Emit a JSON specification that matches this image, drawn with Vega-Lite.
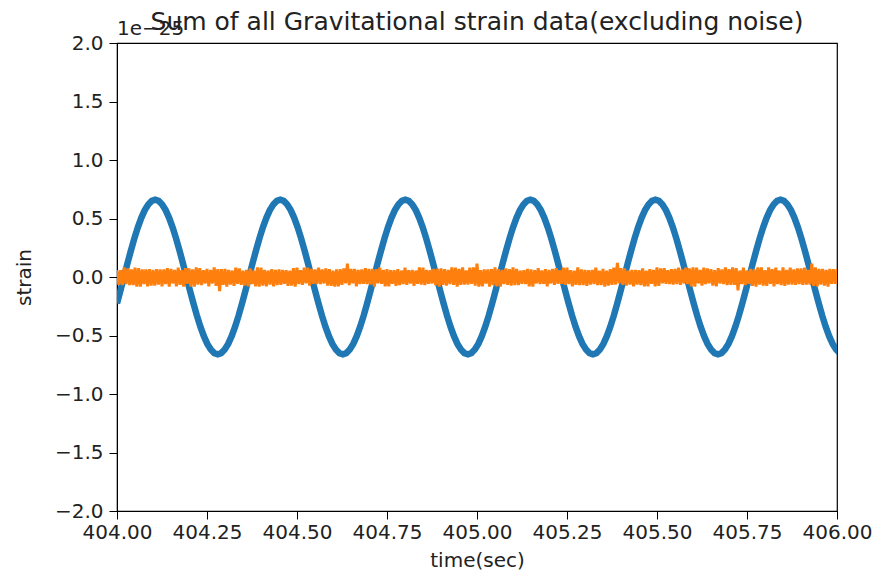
{
"$schema": "https://vega.github.io/schema/vega-lite/v6.json",
"width": 720, "height": 468,
"autosize": {"type": "none"},
"padding": {"left": 117, "top": 43, "right": 44, "bottom": 65},
"background": "white",
"title": {"text": "Sum of all Gravitational strain data(excluding noise)", "fontSize": 25, "font": "DejaVu Sans", "fontWeight": "normal", "color": "#222", "offset": 9, "dy": 25},
"config": {
  "view": {"stroke": "black", "strokeWidth": 1.2},
  "axis": {"grid": false, "domainColor": "black", "tickColor": "black", "labelColor": "#222", "titleColor": "#222", "labelFont": "DejaVu Sans", "titleFont": "DejaVu Sans", "labelFontSize": 20, "titleFontSize": 20, "titleFontWeight": "normal", "tickSize": 8, "labelFlush": false, "labelOverlap": false}
},
"datasets": {
"blue": [
{"t":404,"v":-0.226},{"t":404.00965,"v":-0.115},{"t":404.0193,"v":0},{"t":404.02895,"v":0.115},{"t":404.0386,"v":0.226},{"t":404.04825,"v":0.33},{"t":404.0579,"v":0.424},{"t":404.06755,"v":0.506},{"t":404.0772,"v":0.572},{"t":404.08685,"v":0.62},
{"t":404.0965,"v":0.65},{"t":404.10615,"v":0.66},{"t":404.1158,"v":0.65},{"t":404.12545,"v":0.62},{"t":404.1351,"v":0.572},{"t":404.14475,"v":0.506},{"t":404.1544,"v":0.424},{"t":404.16405,"v":0.33},{"t":404.1737,"v":0.226},{"t":404.18335,"v":0.115},
{"t":404.193,"v":0},{"t":404.20265,"v":-0.115},{"t":404.2123,"v":-0.226},{"t":404.22195,"v":-0.33},{"t":404.2316,"v":-0.424},{"t":404.24125,"v":-0.506},{"t":404.2509,"v":-0.572},{"t":404.26055,"v":-0.62},{"t":404.2702,"v":-0.65},{"t":404.27985,"v":-0.66},
{"t":404.2895,"v":-0.65},{"t":404.29915,"v":-0.62},{"t":404.3088,"v":-0.572},{"t":404.31845,"v":-0.506},{"t":404.3281,"v":-0.424},{"t":404.33775,"v":-0.33},{"t":404.3474,"v":-0.226},{"t":404.35705,"v":-0.115},{"t":404.3667,"v":0},{"t":404.37635,"v":0.115},
{"t":404.386,"v":0.226},{"t":404.39565,"v":0.33},{"t":404.4053,"v":0.424},{"t":404.41495,"v":0.506},{"t":404.4246,"v":0.572},{"t":404.43425,"v":0.62},{"t":404.4439,"v":0.65},{"t":404.45355,"v":0.66},{"t":404.4632,"v":0.65},{"t":404.47285,"v":0.62},
{"t":404.4825,"v":0.572},{"t":404.49215,"v":0.506},{"t":404.5018,"v":0.424},{"t":404.51145,"v":0.33},{"t":404.5211,"v":0.226},{"t":404.53075,"v":0.115},{"t":404.5404,"v":0},{"t":404.55005,"v":-0.115},{"t":404.5597,"v":-0.226},{"t":404.56935,"v":-0.33},
{"t":404.579,"v":-0.424},{"t":404.58865,"v":-0.506},{"t":404.5983,"v":-0.572},{"t":404.60795,"v":-0.62},{"t":404.6176,"v":-0.65},{"t":404.62725,"v":-0.66},{"t":404.6369,"v":-0.65},{"t":404.64655,"v":-0.62},{"t":404.6562,"v":-0.572},{"t":404.66585,"v":-0.506},
{"t":404.6755,"v":-0.424},{"t":404.68515,"v":-0.33},{"t":404.6948,"v":-0.226},{"t":404.70445,"v":-0.115},{"t":404.7141,"v":0},{"t":404.72375,"v":0.115},{"t":404.7334,"v":0.226},{"t":404.74305,"v":0.33},{"t":404.7527,"v":0.424},{"t":404.76235,"v":0.506},
{"t":404.772,"v":0.572},{"t":404.78165,"v":0.62},{"t":404.7913,"v":0.65},{"t":404.80095,"v":0.66},{"t":404.8106,"v":0.65},{"t":404.82025,"v":0.62},{"t":404.8299,"v":0.572},{"t":404.83955,"v":0.506},{"t":404.8492,"v":0.424},{"t":404.85885,"v":0.33},
{"t":404.8685,"v":0.226},{"t":404.87815,"v":0.115},{"t":404.8878,"v":0},{"t":404.89745,"v":-0.115},{"t":404.9071,"v":-0.226},{"t":404.91675,"v":-0.33},{"t":404.9264,"v":-0.424},{"t":404.93605,"v":-0.506},{"t":404.9457,"v":-0.572},{"t":404.95535,"v":-0.62},
{"t":404.965,"v":-0.65},{"t":404.97465,"v":-0.66},{"t":404.9843,"v":-0.65},{"t":404.99395,"v":-0.62},{"t":405.0036,"v":-0.572},{"t":405.01325,"v":-0.506},{"t":405.0229,"v":-0.424},{"t":405.03255,"v":-0.33},{"t":405.0422,"v":-0.226},{"t":405.05185,"v":-0.115},
{"t":405.0615,"v":0},{"t":405.07115,"v":0.115},{"t":405.0808,"v":0.226},{"t":405.09045,"v":0.33},{"t":405.1001,"v":0.424},{"t":405.10975,"v":0.506},{"t":405.1194,"v":0.572},{"t":405.12905,"v":0.62},{"t":405.1387,"v":0.65},{"t":405.14835,"v":0.66},
{"t":405.158,"v":0.65},{"t":405.16765,"v":0.62},{"t":405.1773,"v":0.572},{"t":405.18695,"v":0.506},{"t":405.1966,"v":0.424},{"t":405.20625,"v":0.33},{"t":405.2159,"v":0.226},{"t":405.22555,"v":0.115},{"t":405.2352,"v":0},{"t":405.24485,"v":-0.115},
{"t":405.2545,"v":-0.226},{"t":405.26415,"v":-0.33},{"t":405.2738,"v":-0.424},{"t":405.28345,"v":-0.506},{"t":405.2931,"v":-0.572},{"t":405.30275,"v":-0.62},{"t":405.3124,"v":-0.65},{"t":405.32205,"v":-0.66},{"t":405.3317,"v":-0.65},{"t":405.34135,"v":-0.62},
{"t":405.351,"v":-0.572},{"t":405.36065,"v":-0.506},{"t":405.3703,"v":-0.424},{"t":405.37995,"v":-0.33},{"t":405.3896,"v":-0.226},{"t":405.39925,"v":-0.115},{"t":405.4089,"v":0},{"t":405.41855,"v":0.115},{"t":405.4282,"v":0.226},{"t":405.43785,"v":0.33},
{"t":405.4475,"v":0.424},{"t":405.45715,"v":0.506},{"t":405.4668,"v":0.572},{"t":405.47645,"v":0.62},{"t":405.4861,"v":0.65},{"t":405.49575,"v":0.66},{"t":405.5054,"v":0.65},{"t":405.51505,"v":0.62},{"t":405.5247,"v":0.572},{"t":405.53435,"v":0.506},
{"t":405.544,"v":0.424},{"t":405.55365,"v":0.33},{"t":405.5633,"v":0.226},{"t":405.57295,"v":0.115},{"t":405.5826,"v":0},{"t":405.59225,"v":-0.115},{"t":405.6019,"v":-0.226},{"t":405.61155,"v":-0.33},{"t":405.6212,"v":-0.424},{"t":405.63085,"v":-0.506},
{"t":405.6405,"v":-0.572},{"t":405.65015,"v":-0.62},{"t":405.6598,"v":-0.65},{"t":405.66945,"v":-0.66},{"t":405.6791,"v":-0.65},{"t":405.68875,"v":-0.62},{"t":405.6984,"v":-0.572},{"t":405.70805,"v":-0.506},{"t":405.7177,"v":-0.424},{"t":405.72735,"v":-0.33},
{"t":405.737,"v":-0.226},{"t":405.74665,"v":-0.115},{"t":405.7563,"v":0},{"t":405.76595,"v":0.115},{"t":405.7756,"v":0.226},{"t":405.78525,"v":0.33},{"t":405.7949,"v":0.424},{"t":405.80455,"v":0.506},{"t":405.8142,"v":0.572},{"t":405.82385,"v":0.62},
{"t":405.8335,"v":0.65},{"t":405.84315,"v":0.66},{"t":405.8528,"v":0.65},{"t":405.86245,"v":0.62},{"t":405.8721,"v":0.572},{"t":405.88175,"v":0.506},{"t":405.8914,"v":0.424},{"t":405.90105,"v":0.33},{"t":405.9107,"v":0.226},{"t":405.92035,"v":0.115},
{"t":405.93,"v":0},{"t":405.93965,"v":-0.115},{"t":405.9493,"v":-0.226},{"t":405.95895,"v":-0.33},{"t":405.9686,"v":-0.424},{"t":405.97825,"v":-0.506},{"t":405.9879,"v":-0.572},{"t":405.99755,"v":-0.62},{"t":406.0072,"v":-0.65}
],
"orange": [
{"t":404,"v":0.058},{"t":404.005,"v":-0.067},{"t":404.01,"v":0.058},{"t":404.015,"v":-0.07},{"t":404.02,"v":0.082},{"t":404.025,"v":-0.061},{"t":404.03,"v":0.073},{"t":404.035,"v":-0.07},{"t":404.04,"v":0.064},{"t":404.045,"v":-0.07},
{"t":404.05,"v":0.079},{"t":404.055,"v":-0.082},{"t":404.06,"v":0.076},{"t":404.065,"v":-0.082},{"t":404.07,"v":0.064},{"t":404.075,"v":-0.061},{"t":404.08,"v":0.064},{"t":404.085,"v":-0.079},{"t":404.09,"v":0.067},{"t":404.095,"v":-0.073},
{"t":404.1,"v":0.061},{"t":404.105,"v":-0.073},{"t":404.11,"v":0.067},{"t":404.115,"v":-0.064},{"t":404.12,"v":0.064},{"t":404.125,"v":-0.079},{"t":404.13,"v":0.064},{"t":404.135,"v":-0.061},{"t":404.14,"v":0.076},{"t":404.145,"v":-0.082},
{"t":404.15,"v":0.07},{"t":404.155,"v":-0.055},{"t":404.16,"v":0.061},{"t":404.165,"v":-0.079},{"t":404.17,"v":0.079},{"t":404.175,"v":-0.067},{"t":404.18,"v":0.058},{"t":404.185,"v":-0.082},{"t":404.19,"v":0.076},{"t":404.195,"v":-0.058},
{"t":404.2,"v":0.073},{"t":404.205,"v":-0.082},{"t":404.21,"v":0.064},{"t":404.215,"v":-0.082},{"t":404.22,"v":0.082},{"t":404.225,"v":-0.064},{"t":404.23,"v":0.076},{"t":404.235,"v":-0.07},{"t":404.24,"v":0.058},{"t":404.245,"v":-0.055},
{"t":404.25,"v":0.07},{"t":404.255,"v":-0.079},{"t":404.26,"v":0.061},{"t":404.265,"v":-0.055},{"t":404.27,"v":0.082},{"t":404.275,"v":-0.076},{"t":404.28,"v":0.067},{"t":404.285,"v":-0.12},{"t":404.29,"v":0.067},{"t":404.295,"v":-0.067},
{"t":404.3,"v":0.07},{"t":404.305,"v":-0.082},{"t":404.31,"v":0.061},{"t":404.315,"v":-0.064},{"t":404.32,"v":0.055},{"t":404.325,"v":-0.076},{"t":404.33,"v":0.079},{"t":404.335,"v":-0.058},{"t":404.34,"v":0.073},{"t":404.345,"v":-0.067},
{"t":404.35,"v":0.055},{"t":404.355,"v":-0.073},{"t":404.36,"v":0.061},{"t":404.365,"v":-0.079},{"t":404.37,"v":0.073},{"t":404.375,"v":-0.061},{"t":404.38,"v":0.055},{"t":404.385,"v":-0.079},{"t":404.39,"v":0.082},{"t":404.395,"v":-0.082},
{"t":404.4,"v":0.079},{"t":404.405,"v":-0.073},{"t":404.41,"v":0.061},{"t":404.415,"v":-0.079},{"t":404.42,"v":0.055},{"t":404.425,"v":-0.064},{"t":404.43,"v":0.067},{"t":404.435,"v":-0.079},{"t":404.44,"v":0.061},{"t":404.445,"v":-0.07},
{"t":404.45,"v":0.064},{"t":404.455,"v":-0.067},{"t":404.46,"v":0.061},{"t":404.465,"v":-0.058},{"t":404.47,"v":0.058},{"t":404.475,"v":-0.076},{"t":404.48,"v":0.055},{"t":404.485,"v":-0.073},{"t":404.49,"v":0.076},{"t":404.495,"v":-0.082},
{"t":404.5,"v":0.079},{"t":404.505,"v":-0.061},{"t":404.51,"v":0.058},{"t":404.515,"v":-0.067},{"t":404.52,"v":0.079},{"t":404.525,"v":-0.055},{"t":404.53,"v":0.079},{"t":404.535,"v":-0.073},{"t":404.54,"v":0.07},{"t":404.545,"v":-0.058},
{"t":404.55,"v":0.064},{"t":404.555,"v":-0.061},{"t":404.56,"v":0.079},{"t":404.565,"v":-0.061},{"t":404.57,"v":0.064},{"t":404.575,"v":-0.055},{"t":404.58,"v":0.073},{"t":404.585,"v":-0.073},{"t":404.59,"v":0.067},{"t":404.595,"v":-0.076},
{"t":404.6,"v":0.055},{"t":404.605,"v":-0.082},{"t":404.61,"v":0.064},{"t":404.615,"v":-0.079},{"t":404.62,"v":0.067},{"t":404.625,"v":-0.067},{"t":404.63,"v":0.073},{"t":404.635,"v":-0.055},{"t":404.64,"v":0.115},{"t":404.645,"v":-0.07},
{"t":404.65,"v":0.07},{"t":404.655,"v":-0.055},{"t":404.66,"v":0.07},{"t":404.665,"v":-0.079},{"t":404.67,"v":0.061},{"t":404.675,"v":-0.061},{"t":404.68,"v":0.064},{"t":404.685,"v":-0.058},{"t":404.69,"v":0.076},{"t":404.695,"v":-0.061},
{"t":404.7,"v":0.07},{"t":404.705,"v":-0.064},{"t":404.71,"v":0.07},{"t":404.715,"v":-0.082},{"t":404.72,"v":0.067},{"t":404.725,"v":-0.055},{"t":404.73,"v":0.079},{"t":404.735,"v":-0.058},{"t":404.74,"v":0.061},{"t":404.745,"v":-0.079},
{"t":404.75,"v":0.067},{"t":404.755,"v":-0.079},{"t":404.76,"v":0.058},{"t":404.765,"v":-0.058},{"t":404.77,"v":0.058},{"t":404.775,"v":-0.076},{"t":404.78,"v":0.067},{"t":404.785,"v":-0.07},{"t":404.79,"v":0.055},{"t":404.795,"v":-0.061},
{"t":404.8,"v":0.079},{"t":404.805,"v":-0.067},{"t":404.81,"v":0.058},{"t":404.815,"v":-0.055},{"t":404.82,"v":0.061},{"t":404.825,"v":-0.076},{"t":404.83,"v":0.055},{"t":404.835,"v":-0.058},{"t":404.84,"v":0.082},{"t":404.845,"v":-0.064},
{"t":404.85,"v":0.079},{"t":404.855,"v":-0.07},{"t":404.86,"v":0.061},{"t":404.865,"v":-0.058},{"t":404.87,"v":0.058},{"t":404.875,"v":-0.055},{"t":404.88,"v":0.07},{"t":404.885,"v":-0.07},{"t":404.89,"v":0.07},{"t":404.895,"v":-0.082},
{"t":404.9,"v":0.073},{"t":404.905,"v":-0.067},{"t":404.91,"v":0.067},{"t":404.915,"v":-0.073},{"t":404.92,"v":0.061},{"t":404.925,"v":-0.061},{"t":404.93,"v":0.082},{"t":404.935,"v":-0.067},{"t":404.94,"v":0.079},{"t":404.945,"v":-0.082},
{"t":404.95,"v":0.07},{"t":404.955,"v":-0.067},{"t":404.96,"v":0.082},{"t":404.965,"v":-0.064},{"t":404.97,"v":0.055},{"t":404.975,"v":-0.064},{"t":404.98,"v":0.079},{"t":404.985,"v":-0.058},{"t":404.99,"v":0.082},{"t":404.995,"v":-0.073},
{"t":405,"v":0.115},{"t":405.005,"v":-0.082},{"t":405.01,"v":0.058},{"t":405.015,"v":-0.079},{"t":405.02,"v":0.064},{"t":405.025,"v":-0.055},{"t":405.03,"v":0.064},{"t":405.035,"v":-0.082},{"t":405.04,"v":0.067},{"t":405.045,"v":-0.07},
{"t":405.05,"v":0.082},{"t":405.055,"v":-0.079},{"t":405.06,"v":0.067},{"t":405.065,"v":-0.082},{"t":405.07,"v":0.061},{"t":405.075,"v":-0.061},{"t":405.08,"v":0.073},{"t":405.085,"v":-0.067},{"t":405.09,"v":0.067},{"t":405.095,"v":-0.073},
{"t":405.1,"v":0.082},{"t":405.105,"v":-0.07},{"t":405.11,"v":0.07},{"t":405.115,"v":-0.07},{"t":405.12,"v":0.055},{"t":405.125,"v":-0.058},{"t":405.13,"v":0.058},{"t":405.135,"v":-0.061},{"t":405.14,"v":0.07},{"t":405.145,"v":-0.079},
{"t":405.15,"v":0.064},{"t":405.155,"v":-0.082},{"t":405.16,"v":0.058},{"t":405.165,"v":-0.055},{"t":405.17,"v":0.076},{"t":405.175,"v":-0.061},{"t":405.18,"v":0.055},{"t":405.185,"v":-0.058},{"t":405.19,"v":0.067},{"t":405.195,"v":-0.079},
{"t":405.2,"v":0.061},{"t":405.205,"v":-0.055},{"t":405.21,"v":0.07},{"t":405.215,"v":-0.067},{"t":405.22,"v":0.076},{"t":405.225,"v":-0.058},{"t":405.23,"v":0.058},{"t":405.235,"v":-0.058},{"t":405.24,"v":0.079},{"t":405.245,"v":-0.067},
{"t":405.25,"v":0.079},{"t":405.255,"v":-0.061},{"t":405.26,"v":0.058},{"t":405.265,"v":-0.079},{"t":405.27,"v":0.055},{"t":405.275,"v":-0.067},{"t":405.28,"v":0.082},{"t":405.285,"v":-0.07},{"t":405.29,"v":0.064},{"t":405.295,"v":-0.07},
{"t":405.3,"v":0.061},{"t":405.305,"v":-0.076},{"t":405.31,"v":0.058},{"t":405.315,"v":-0.064},{"t":405.32,"v":0.061},{"t":405.325,"v":-0.061},{"t":405.33,"v":0.079},{"t":405.335,"v":-0.07},{"t":405.34,"v":0.055},{"t":405.345,"v":-0.07},
{"t":405.35,"v":0.07},{"t":405.355,"v":-0.082},{"t":405.36,"v":0.055},{"t":405.365,"v":-0.073},{"t":405.37,"v":0.067},{"t":405.375,"v":-0.067},{"t":405.38,"v":0.079},{"t":405.385,"v":-0.064},{"t":405.39,"v":0.12},{"t":405.395,"v":-0.055},
{"t":405.4,"v":0.076},{"t":405.405,"v":-0.067},{"t":405.41,"v":0.073},{"t":405.415,"v":-0.073},{"t":405.42,"v":0.055},{"t":405.425,"v":-0.064},{"t":405.43,"v":0.061},{"t":405.435,"v":-0.079},{"t":405.44,"v":0.061},{"t":405.445,"v":-0.064},
{"t":405.45,"v":0.058},{"t":405.455,"v":-0.07},{"t":405.46,"v":0.073},{"t":405.465,"v":-0.079},{"t":405.47,"v":0.055},{"t":405.475,"v":-0.079},{"t":405.48,"v":0.067},{"t":405.485,"v":-0.058},{"t":405.49,"v":0.061},{"t":405.495,"v":-0.079},
{"t":405.5,"v":0.082},{"t":405.505,"v":-0.076},{"t":405.51,"v":0.073},{"t":405.515,"v":-0.055},{"t":405.52,"v":0.076},{"t":405.525,"v":-0.058},{"t":405.53,"v":0.058},{"t":405.535,"v":-0.061},{"t":405.54,"v":0.067},{"t":405.545,"v":-0.064},
{"t":405.55,"v":0.07},{"t":405.555,"v":-0.061},{"t":405.56,"v":0.079},{"t":405.565,"v":-0.067},{"t":405.57,"v":0.064},{"t":405.575,"v":-0.055},{"t":405.58,"v":0.079},{"t":405.585,"v":-0.061},{"t":405.59,"v":0.073},{"t":405.595,"v":-0.079},
{"t":405.6,"v":0.082},{"t":405.605,"v":-0.082},{"t":405.61,"v":0.079},{"t":405.615,"v":-0.055},{"t":405.62,"v":0.061},{"t":405.625,"v":-0.073},{"t":405.63,"v":0.079},{"t":405.635,"v":-0.061},{"t":405.64,"v":0.073},{"t":405.645,"v":-0.055},
{"t":405.65,"v":0.067},{"t":405.655,"v":-0.073},{"t":405.66,"v":0.058},{"t":405.665,"v":-0.079},{"t":405.67,"v":0.076},{"t":405.675,"v":-0.055},{"t":405.68,"v":0.064},{"t":405.685,"v":-0.061},{"t":405.69,"v":0.082},{"t":405.695,"v":-0.07},
{"t":405.7,"v":0.067},{"t":405.705,"v":-0.067},{"t":405.71,"v":0.082},{"t":405.715,"v":-0.067},{"t":405.72,"v":0.076},{"t":405.725,"v":-0.115},{"t":405.73,"v":0.055},{"t":405.735,"v":-0.061},{"t":405.74,"v":0.079},{"t":405.745,"v":-0.07},
{"t":405.75,"v":0.055},{"t":405.755,"v":-0.058},{"t":405.76,"v":0.07},{"t":405.765,"v":-0.076},{"t":405.77,"v":0.064},{"t":405.775,"v":-0.082},{"t":405.78,"v":0.082},{"t":405.785,"v":-0.064},{"t":405.79,"v":0.082},{"t":405.795,"v":-0.073},
{"t":405.8,"v":0.058},{"t":405.805,"v":-0.076},{"t":405.81,"v":0.082},{"t":405.815,"v":-0.058},{"t":405.82,"v":0.067},{"t":405.825,"v":-0.079},{"t":405.83,"v":0.079},{"t":405.835,"v":-0.061},{"t":405.84,"v":0.055},{"t":405.845,"v":-0.07},
{"t":405.85,"v":0.082},{"t":405.855,"v":-0.076},{"t":405.86,"v":0.061},{"t":405.865,"v":-0.064},{"t":405.87,"v":0.079},{"t":405.875,"v":-0.064},{"t":405.88,"v":0.064},{"t":405.885,"v":-0.067},{"t":405.89,"v":0.073},{"t":405.895,"v":-0.061},
{"t":405.9,"v":0.073},{"t":405.905,"v":-0.067},{"t":405.91,"v":0.079},{"t":405.915,"v":-0.064},{"t":405.92,"v":0.061},{"t":405.925,"v":-0.064},{"t":405.93,"v":0.115},{"t":405.935,"v":-0.076},{"t":405.94,"v":0.082},{"t":405.945,"v":-0.079},
{"t":405.95,"v":0.07},{"t":405.955,"v":-0.064},{"t":405.96,"v":0.07},{"t":405.965,"v":-0.073},{"t":405.97,"v":0.061},{"t":405.975,"v":-0.082},{"t":405.98,"v":0.07},{"t":405.985,"v":-0.058},{"t":405.99,"v":0.067},{"t":405.995,"v":-0.058},
{"t":406,"v":0.07}
],
"note": [{"t":404,"v":2,"label":"1e−25"}]
},
"layer": [
  {"data": {"name": "blue"}, "mark": {"type": "line", "color": "#1f77b4", "strokeWidth": 6.5, "clip": true},
   "encoding": {
     "x": {"field": "t", "type": "quantitative", "scale": {"domain": [404, 406], "nice": false, "zero": false},
           "axis": {"values": [404, 404.25, 404.5, 404.75, 405, 405.25, 405.5, 405.75, 406], "format": ".2f", "title": "time(sec)", "labelPadding": 3, "titlePadding": 8}},
     "y": {"field": "v", "type": "quantitative", "scale": {"domain": [-2, 2], "nice": false, "zero": false},
           "axis": {"values": [-2, -1.5, -1, -0.5, 0, 0.5, 1, 1.5, 2], "format": ".1f", "title": "strain", "labelPadding": 6, "titlePadding": 20}}
   }},
  {"data": {"name": "orange"}, "mark": {"type": "line", "color": "#ff7f0e", "strokeWidth": 3, "clip": true},
   "encoding": {
     "x": {"field": "t", "type": "quantitative"},
     "y": {"field": "v", "type": "quantitative"}
   }},
  {"data": {"name": "note"}, "mark": {"type": "text", "align": "left", "baseline": "alphabetic", "dy": -8, "fontSize": 20, "font": "DejaVu Sans", "color": "#222"},
   "encoding": {
     "x": {"field": "t", "type": "quantitative"},
     "y": {"field": "v", "type": "quantitative"},
     "text": {"field": "label"}
   }}
]
}
